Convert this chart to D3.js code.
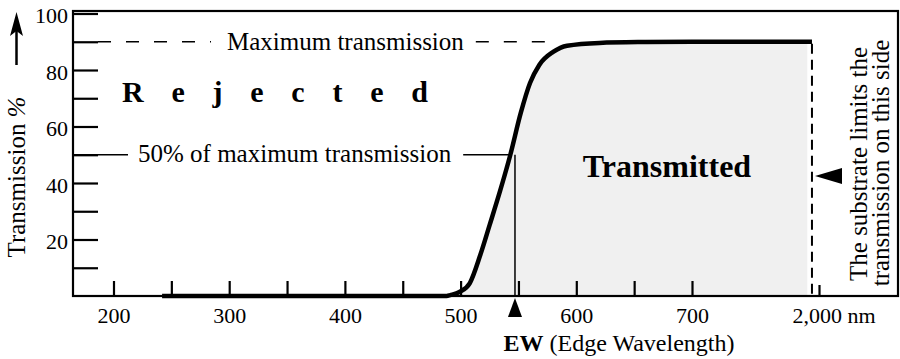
<!DOCTYPE html>
<html>
<head>
<meta charset="utf-8">
<script src="https://cdn.jsdelivr.net/npm/d3@7"></script>
<style>
  html, body { margin: 0; padding: 0; background: #fff; }
  svg { display: block; }
  svg text { font-family: "Liberation Serif", "Times New Roman", serif; }
</style>
</head>
<body>
<svg id="chart" width="900" height="359"></svg>
<script>
// ---- data ----
const wavelengthNm = [242, 488, 491, 499, 508, 517, 525, 534, 543, 552, 560, 568, 580, 592, 620, 660, 700, 1928];
const transmissionPct = [0, 0, 0.3, 1.4, 4.6, 14.5, 25, 37, 50, 64.8, 75.4, 81.8, 86.4, 88.6, 89.6, 89.9, 90, 90];
const xTickValues = [200, 250, 300, 350, 400, 450, 500, 550, 600, 650, 700, 2000];
const xTickLabels = ["200", "", "300", "", "400", "", "500", "", "600", "", "700", "2,000"];
const yTickValues = [10, 20, 30, 40, 50, 60, 70, 80, 90, 100];
const yTickLabels = ["", "20", "", "40", "", "60", "", "80", "", "100"];
const maxTransmission = 90;
const halfTransmission = 50;
const edgeWavelength = 547;
const fillEndNm = 1880;
const yAxisTitle = "Transmission ";
const xAxisTitleBold = "EW";
const xAxisTitleRest = " (Edge Wavelength)";
const labelMax = "Maximum transmission";
const labelHalf = "50% of maximum transmission";
const labelRejected = "Rejected";
const labelTransmitted = "Transmitted";
const labelSubstrate = ["The substrate limits the", "transmission on this side"];
const unitLabel = "nm";

// ---- layout ----
const FONT = "Liberation Serif, Times New Roman, serif";
const mLeft = 73, mRight = 898, mBottom = 296, mTop = 11;
const svg = d3.select("#chart");

// broken (polylinear) wavelength axis: 200–700 linear, then jump to 2,000
const x = d3.scaleLinear().domain([165, 700, 2000, 2810]).range([mLeft, 692, 819, mRight]);
const y = d3.scaleLinear().domain([0, 100]).range([mBottom, 13.5]);

const data = wavelengthNm.map((w, i) => ({ w, t: transmissionPct[i] }));

// clip for fill
svg.append("defs").append("clipPath").attr("id", "fillClip")
  .append("rect").attr("x", mLeft).attr("y", mTop).attr("width", x(fillEndNm) - mLeft).attr("height", mBottom - mTop);

// filled area
const area = d3.area().x(d => x(d.w)).y0(y(0)).y1(d => y(d.t)).curve(d3.curveMonotoneX);
svg.append("path").datum(data).attr("d", area).attr("fill", "#f0f0f0").attr("clip-path", "url(#fillClip)");

// frame
svg.append("rect").attr("x", mLeft).attr("y", mTop).attr("width", mRight - mLeft).attr("height", mBottom - mTop)
  .attr("fill", "none").attr("stroke", "#000").attr("stroke-width", 2.2);

// y axis
const yAxis = d3.axisLeft(y).tickValues(yTickValues)
  .tickFormat((d, i) => yTickLabels[i]).tickSizeInner(-25).tickSizeOuter(0).tickPadding(5);
const gy = svg.append("g").attr("transform", `translate(${mLeft},0)`).call(yAxis)
  .attr("font-family", FONT).attr("font-size", 22);
gy.select(".domain").remove();
gy.selectAll(".tick line").attr("stroke", "#000").attr("stroke-width", 2.2);
gy.selectAll(".tick text").attr("fill", "#000").attr("dy", "0.42em");

// x axis
const xAxis = d3.axisBottom(x).tickValues(xTickValues)
  .tickFormat((d, i) => xTickLabels[i]).tickSizeInner(-15).tickSizeOuter(0).tickPadding(11);
const gx = svg.append("g").attr("transform", `translate(0,${mBottom})`).call(xAxis)
  .attr("font-family", FONT).attr("font-size", 22);
gx.select(".domain").remove();
gx.selectAll(".tick line").attr("stroke", "#000").attr("stroke-width", 2.2)
  .attr("y2", d => d === 2000 ? -11 : -15);
gx.selectAll(".tick text").attr("fill", "#000");
// unit after 2,000
const t2000 = gx.selectAll(".tick").filter(d => d === 2000).select("text");
t2000.attr("text-anchor", "start").attr("x", -27);
t2000.append("tspan").text(" " + unitLabel);

// curve
const line = d3.line().x(d => x(d.w)).y(d => y(d.t)).curve(d3.curveMonotoneX);
svg.append("path").datum(data).attr("d", line).attr("fill", "none")
  .attr("stroke", "#000").attr("stroke-width", 4.5).attr("stroke-linejoin", "round");

// vertical dashed substrate line
const endX = x(wavelengthNm[wavelengthNm.length - 1]);
svg.append("line").attr("x1", endX).attr("x2", endX)
  .attr("y1", y(maxTransmission) + 2).attr("y2", mBottom)
  .attr("stroke", "#000").attr("stroke-width", 2).attr("stroke-dasharray", "10,6");

// maximum transmission label + dashed line
const tMax = svg.append("text").attr("x", 227).attr("y", y(maxTransmission) + 8)
  .attr("font-size", 25).attr("fill", "#000").text(labelMax);
const maxW = tMax.node().getComputedTextLength();
svg.append("line").attr("x1", mLeft + 25).attr("x2", 227 - 16)
  .attr("y1", y(maxTransmission)).attr("y2", y(maxTransmission))
  .attr("stroke", "#000").attr("stroke-width", 1.6).attr("stroke-dasharray", "13,15");
svg.append("line").attr("x1", 227 + maxW + 12).attr("x2", x(578))
  .attr("y1", y(maxTransmission)).attr("y2", y(maxTransmission))
  .attr("stroke", "#000").attr("stroke-width", 1.6).attr("stroke-dasharray", "13,15");

// 50% label + solid line
const tHalf = svg.append("text").attr("x", 138).attr("y", y(halfTransmission) + 7)
  .attr("font-size", 25).attr("fill", "#000").text(labelHalf);
const halfW = tHalf.node().getComputedTextLength();
svg.append("line").attr("x1", mLeft).attr("x2", 128)
  .attr("y1", y(halfTransmission)).attr("y2", y(halfTransmission))
  .attr("stroke", "#000").attr("stroke-width", 1.6);
svg.append("line").attr("x1", 138 + halfW + 12).attr("x2", x(edgeWavelength) - 3)
  .attr("y1", y(halfTransmission)).attr("y2", y(halfTransmission))
  .attr("stroke", "#000").attr("stroke-width", 1.6);

// EW vertical line and marker
const ewx = x(edgeWavelength);
svg.append("line").attr("x1", ewx).attr("x2", ewx)
  .attr("y1", y(halfTransmission)).attr("y2", mBottom)
  .attr("stroke", "#000").attr("stroke-width", 1.5);
svg.append("path").attr("d", `M${ewx},${mBottom + 2} L${ewx - 7},${mBottom + 21} L${ewx + 7},${mBottom + 21} Z`).attr("fill", "#000");

// Rejected / Transmitted
svg.append("text").attr("x", 122).attr("y", 102).attr("font-size", 30).attr("font-weight", "bold")
  .attr("fill", "#000").attr("textLength", 306).attr("lengthAdjust", "spacing").text(labelRejected);
svg.append("text").attr("x", 667).attr("y", 177).attr("font-size", 32).attr("font-weight", "bold")
  .attr("text-anchor", "middle").attr("fill", "#000").text(labelTransmitted);

// x axis title
const xt = svg.append("text").attr("x", 619).attr("y", 351).attr("font-size", 24)
  .attr("text-anchor", "middle").attr("fill", "#000");
xt.append("tspan").attr("font-weight", "bold").text(xAxisTitleBold);
xt.append("tspan").text(xAxisTitleRest);

// y axis title + arrow
const yt = svg.append("text").attr("transform", "translate(25,177) rotate(-90)")
  .attr("font-size", 25).attr("text-anchor", "middle").attr("fill", "#000");
yt.append("tspan").text(yAxisTitle);
yt.append("tspan").attr("font-style", "italic").text("%");
svg.append("line").attr("x1", 16.5).attr("x2", 16.5).attr("y1", 65).attr("y2", 28)
  .attr("stroke", "#000").attr("stroke-width", 2.5);
svg.append("path").attr("d", "M16.5,12 L23,36 L16.5,31 L10,36 Z").attr("fill", "#000");

// substrate note
labelSubstrate.forEach((s, i) => {
  svg.append("text").attr("transform", `translate(${867 + i * 22},${164 - i}) rotate(-90)`)
    .attr("font-size", 25).attr("text-anchor", "middle").attr("fill", "#000").text(s);
});
svg.append("path").attr("d", "M815,176 L842,168 L842,184 Z").attr("fill", "#000");
</script>
</body>
</html>
